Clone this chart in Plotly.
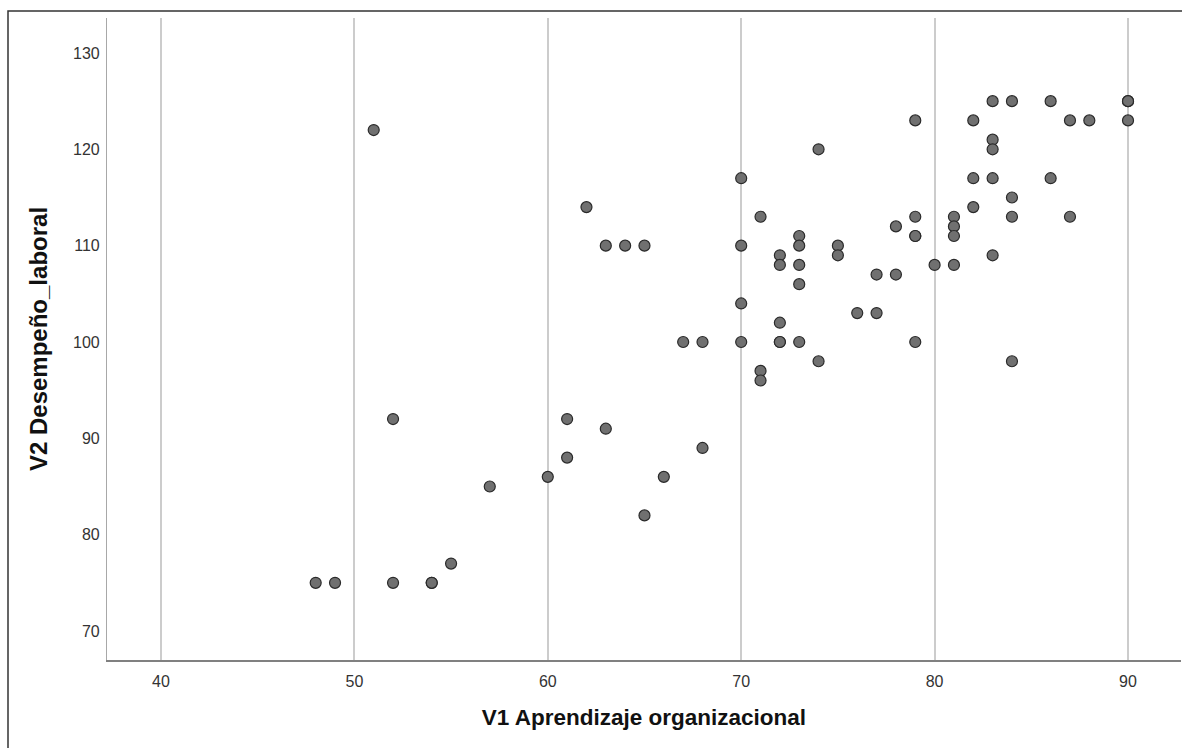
import plotly.graph_objects as go

# V1 Aprendizaje organizacional (x) and V2 Desempeño_laboral (y)
v1 = [48, 49, 52, 54, 54, 55, 57, 60, 61, 61, 52, 51, 63, 65, 66, 68,
      62, 63, 64, 65, 67, 68, 70, 70, 70, 70, 71, 71, 71,
      72, 72, 72, 72, 72, 73, 73, 73, 73, 73, 74, 74, 75, 75,
      76, 77, 77, 78, 78, 79, 79, 79, 79, 79, 80, 81, 81, 81, 81,
      82, 82, 82, 83, 83, 83, 83, 83, 84, 84, 84, 84,
      86, 86, 87, 87, 88, 90, 90, 90]
v2 = [75, 75, 75, 75, 75, 77, 85, 86, 88, 92, 92, 122, 91, 82, 86, 89,
      114, 110, 110, 110, 100, 100, 117, 110, 104, 100, 113, 97, 96,
      109, 108, 102, 100, 100, 111, 110, 108, 106, 100, 120, 98, 110, 109,
      103, 107, 103, 112, 107, 123, 113, 111, 111, 100, 108, 113, 112, 111, 108,
      123, 117, 114, 125, 121, 120, 117, 109, 125, 115, 113, 98,
      125, 117, 123, 113, 123, 125, 125, 123]

x_ticks = [40, 50, 60, 70, 80, 90]
y_ticks = [70, 80, 90, 100, 110, 120, 130]

fig = go.Figure()
fig.add_trace(go.Scatter(
    x=v1, y=v2, mode="markers",
    marker=dict(size=11, color="#707070", line=dict(color="#2a2a2a", width=1.2)),
    showlegend=False, hoverinfo="x+y"))

W, H = 1182, 748
L, R, T, B = 107, 1, 18, 88
pw, ph = W - L - R, H - T - B

fig.update_layout(
    width=W, height=H,
    margin=dict(l=L, r=R, t=T, b=B),
    paper_bgcolor="white", plot_bgcolor="white",
    font=dict(family="Liberation Sans, Arial, sans-serif", color="#333333"),
    xaxis=dict(
        range=[37.21, 92.74], tickvals=x_ticks, ticktext=[str(t) for t in x_ticks],
        showgrid=True, gridcolor="#cccccc", gridwidth=1.5,
        zeroline=False, showline=True, linecolor="#808080", linewidth=1.5,
        ticks="", ticklabelstandoff=6, tickfont=dict(size=16, color="#333333"),
        title=dict(text="<b>V1 Aprendizaje organizacional</b>", standoff=20,
                   font=dict(size=22.5, color="#111111", family="Liberation Sans, Arial, sans-serif")),
        fixedrange=True),
    yaxis=dict(
        range=[66.99, 133.63], tickvals=y_ticks, ticktext=[str(t) for t in y_ticks],
        showgrid=False, zeroline=False, showline=True, linecolor="#a8a8a8", linewidth=1.2,
        ticks="", ticklabelstandoff=3, tickfont=dict(size=16, color="#333333"),
        title=dict(text="<b>V2 Desempeño_laboral</b>", standoff=18,
                   font=dict(size=24, color="#111111", family="Liberation Sans, Arial, sans-serif")),
        fixedrange=True),
)

# outer frame of the chart image
fig.add_shape(type="rect", xref="paper", yref="paper",
              x0=(8 - L) / pw, x1=(W + 10 - L) / pw,
              y0=-(H + 10 - (T + ph)) / ph, y1=(T + ph - 11) / ph,
              line=dict(color="#333333", width=1.5), fillcolor="rgba(0,0,0,0)", layer="above")

fig.write_html("out.html")
